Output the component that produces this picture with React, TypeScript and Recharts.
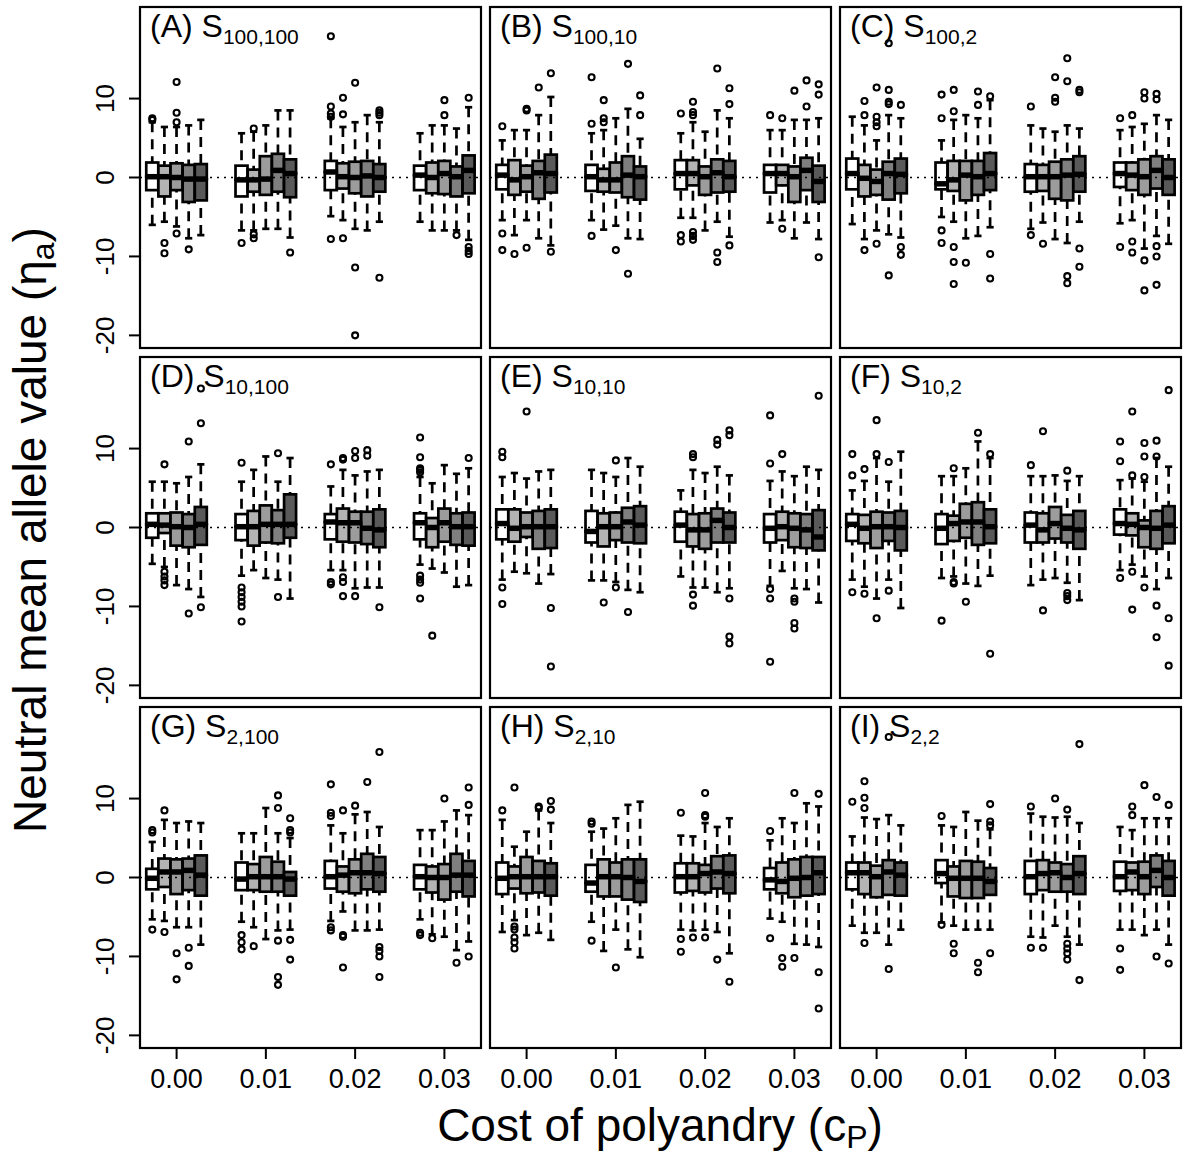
import React from 'react';
import { ComposedChart, Bar, Scatter, XAxis, YAxis, ReferenceLine } from 'recharts';

// cost of polyandry groups and the five treatment shades inside each group
const COSTS = [0, 0.01, 0.02, 0.03];
const SHADES = ['#ffffff', '#b3b3b3', '#9c9c9c', '#7f7f7f', '#595959'];
const Y_TICKS = [-20, -10, 0, 10];
const PANEL_TAGS = ['(A)', '(B)', '(C)', '(D)', '(E)', '(F)', '(G)', '(H)', '(I)'];
const PANEL_SUBS = ['100,100', '100,10', '100,2', '10,100', '10,10', '10,2', '2,100', '2,10', '2,2'];

// box rows: [lower whisker, q1, median, q3, upper whisker], 4 cost groups x 5 boxes
const A_BOXES = [
  [-6.0, -1.6, 0.1, 1.9, 7.0], [-5.6, -2.4, 0.1, 1.5, 6.4], [-6.2, -1.6, 0.0, 1.8, 6.4], [-7.7, -3.1, -0.2, 1.6, 6.6], [-7.3, -2.9, -0.2, 1.7, 7.3],
  [-6.7, -2.4, -0.3, 1.5, 5.6], [-6.7, -1.8, -0.3, 1.0, 5.8], [-6.5, -2.2, -0.2, 2.7, 6.6], [-6.5, -1.8, 0.9, 3.0, 8.5], [-7.6, -2.5, 0.5, 2.3, 8.5],
  [-4.9, -1.6, 0.7, 2.1, 7.5], [-5.4, -1.4, 0.1, 1.8, 6.4], [-6.5, -2.0, 0.0, 2.0, 7.0], [-6.7, -2.4, 0.2, 2.1, 7.9], [-5.6, -1.8, 0.0, 1.7, 7.0],
  [-5.6, -1.6, 0.3, 1.5, 5.6], [-6.7, -2.0, 0.0, 1.9, 6.6], [-6.7, -2.1, 0.5, 2.1, 6.6], [-6.7, -2.4, 0.1, 1.4, 6.2], [-7.9, -2.0, 0.9, 2.8, 8.9],
];
const A_OUTLIERS = [
  [7.5, 7.3], [-8.3, -9.6], [12.1, 8.2, 7.0, -7.1], [-9.1], [],
  [-8.3], [6.2, -7.2, -7.7], [], [], [-9.5],
  [17.9, 9.0, 8.1, 7.7, -7.8], [10.1, 8.0, -7.7], [12.0, -11.4, -20.0], [], [8.5, 8.2, 7.9, -12.7],
  [], [], [9.8, 7.9], [-7.3], [10.1, -8.8, -9.3, -9.7],
];

const B_BOXES = [
  [-5.4, -1.5, 0.3, 1.6, 4.7], [-7.3, -2.2, -0.3, 2.2, 6.0], [-5.4, -1.8, 0.1, 1.5, 6.0], [-7.7, -2.7, 0.6, 2.1, 7.9], [-8.6, -1.9, 0.5, 2.9, 10.2],
  [-5.4, -1.7, 0.1, 1.6, 5.6], [-6.6, -1.8, -0.3, 1.1, 6.0], [-6.1, -1.9, -0.3, 1.9, 7.5], [-7.7, -2.5, 0.3, 2.7, 8.7], [-7.8, -2.8, 0.1, 1.4, 4.9],
  [-5.1, -1.5, 0.5, 2.2, 5.6], [-5.1, -1.0, 0.5, 2.2, 7.0], [-6.7, -2.2, 0.1, 1.4, 5.8], [-5.6, -1.9, 0.6, 2.3, 8.5], [-7.5, -1.8, 0.1, 2.1, 7.5],
  [-5.7, -1.9, 0.5, 1.6, 6.0], [-5.4, -1.0, 0.5, 1.6, 6.0], [-7.7, -3.1, 0.1, 1.4, 7.3], [-5.7, -1.6, 0.9, 2.5, 7.3], [-7.8, -3.1, -0.5, 1.5, 7.5],
];
const B_OUTLIERS = [
  [6.5, -7.1, -9.2], [-9.7], [8.7, 8.5, -8.9], [11.4], [13.2, -9.4],
  [6.8, 12.7, -7.4], [7.5, 7.0, 9.8], [-9.2], [14.4, -12.2], [7.9, 10.4],
  [8.1, -7.3, -8.1], [9.6, 8.3, 7.9, -6.9, -7.4, -7.9], [], [13.8, -9.5, -10.7], [11.3, 9.3, -8.6],
  [7.9], [7.5, -6.5], [11.0], [9.0, 12.3], [10.5, 11.8, -10.1],
];

const C_BOXES = [
  [-5.9, -1.5, 0.5, 2.4, 7.7], [-7.8, -2.4, -0.1, 1.6, 6.6], [-6.7, -2.2, -0.5, 1.0, 4.7], [-7.2, -2.8, 0.5, 2.0, 7.9], [-7.6, -2.0, 0.4, 2.4, 7.5],
  [-5.0, -1.5, -0.8, 1.9, 4.7], [-5.6, -1.7, -0.3, 2.1, 7.3], [-7.7, -2.9, 0.3, 2.1, 7.9], [-7.4, -2.2, 0.1, 2.1, 7.5], [-6.3, -1.6, 0.5, 3.1, 9.8],
  [-6.5, -1.8, 0.1, 1.7, 6.6], [-5.7, -1.7, 0.1, 1.6, 6.2], [-7.8, -2.7, 0.1, 2.0, 5.8], [-8.3, -2.9, 0.3, 2.3, 6.6], [-5.6, -1.8, 0.4, 2.7, 6.2],
  [-5.8, -1.2, 0.5, 1.9, 6.0], [-5.4, -1.6, 0.3, 1.9, 6.4], [-9.0, -2.2, 0.1, 2.3, 6.8], [-7.4, -1.4, 0.9, 2.7, 7.9], [-8.4, -2.2, 0.0, 2.3, 7.3],
];
const C_OUTLIERS = [
  [], [7.9, 9.7, -9.2], [7.7, 7.0, 6.5, 11.4, -8.4], [17.0, 11.1, 9.6, 9.3, -12.4], [9.2, -8.8, -9.8],
  [7.5, 10.5, -6.7, -8.3], [8.4, 11.1, -8.8, -10.7, -13.5], [-10.8], [9.2, 10.9], [10.3, -9.7, -12.8],
  [9.0, -7.3], [-8.4], [10.1, 9.6, 12.7], [12.2, 15.1, -12.5, -13.4], [11.1, 10.8, -9.0, -11.3],
  [7.5, -8.8], [7.9, -8.1, -9.5], [10.8, 10.0, -10.5, -14.3], [10.6, 9.9, -8.7, -10.0, -13.6], [],
];

const D_BOXES = [
  [-4.6, -1.3, 0.4, 1.8, 5.8], [-5.0, -0.7, 0.3, 1.8, 5.8], [-7.3, -2.3, 0.1, 1.9, 5.6], [-7.8, -2.5, 0.0, 1.7, 6.4], [-8.8, -2.2, 0.4, 2.6, 8.0],
  [-6.1, -1.6, 0.1, 1.7, 5.8], [-5.4, -2.3, 0.1, 2.1, 7.3], [-6.4, -1.9, 0.4, 2.8, 9.0], [-6.6, -2.0, 0.4, 2.2, 5.8], [-9.0, -1.3, 0.4, 4.2, 8.8],
  [-5.4, -1.5, 0.7, 1.7, 5.2], [-5.4, -1.8, 0.6, 2.4, 7.3], [-7.7, -1.9, 0.6, 2.0, 6.6], [-7.6, -2.1, -0.1, 2.0, 7.1], [-7.6, -2.5, -0.3, 2.3, 7.3],
  [-4.7, -1.5, 0.6, 1.8, 6.4], [-5.2, -2.5, 0.0, 1.2, 5.6], [-5.7, -1.8, 0.6, 2.4, 7.9], [-7.5, -2.2, 0.1, 1.8, 6.8], [-7.3, -2.3, 0.1, 1.9, 7.5],
];
const D_OUTLIERS = [
  [], [8.0, -5.6, -6.2, -6.7, -7.3], [], [10.9, -10.9], [13.2, 17.6, -10.1],
  [8.2, -7.6, -8.2, -8.8, -9.4, -10.0, -11.9], [], [], [9.4, -8.8], [],
  [8.0, -6.9, -7.2], [8.8, 8.6, -6.3, -6.9, -8.7], [9.7, 8.8, -8.7], [9.8, 9.1], [-10.1],
  [7.5, 7.3, 7.0, 8.9, 11.4, -6.1, -6.6, -7.0, -9.0], [-13.7], [], [], [8.8],
];

const E_BOXES = [
  [-6.6, -1.5, 0.5, 2.3, 6.4], [-5.6, -1.8, -0.1, 2.3, 6.9], [-5.8, -1.2, 0.1, 1.9, 6.2], [-7.1, -2.7, 0.1, 2.1, 7.1], [-5.9, -2.6, 0.1, 2.3, 7.3],
  [-6.7, -1.9, -0.5, 2.1, 7.3], [-6.7, -2.4, 0.1, 1.8, 6.9], [-6.9, -1.6, 0.1, 1.9, 6.4], [-7.9, -1.9, 0.7, 2.5, 8.8], [-8.2, -2.0, 0.3, 2.7, 7.7],
  [-6.2, -1.8, 0.3, 2.0, 4.7], [-7.6, -2.4, -0.3, 1.7, 7.3], [-7.6, -2.7, -0.3, 1.8, 6.9], [-8.2, -1.9, 0.9, 2.4, 7.7], [-7.7, -1.9, 0.0, 1.9, 6.6],
  [-7.4, -1.9, -0.1, 1.7, 5.9], [-5.5, -1.6, 0.1, 2.0, 7.1], [-7.7, -2.5, -0.1, 1.8, 6.5], [-7.8, -2.6, -0.3, 1.7, 7.7], [-9.5, -2.9, -1.2, 2.2, 7.3],
];
const E_OUTLIERS = [
  [9.6, 8.9, -7.6, -9.7], [], [14.7], [], [-10.2, -17.6],
  [], [-9.5], [8.5, -7.6], [-10.7], [],
  [], [9.3, 8.9, -8.5, -9.9], [], [11.1, 10.5], [12.3, 11.7, -9.0, -13.8, -14.7],
  [8.1, 14.2, -7.8, -9.0, -17.0], [9.3], [-9.0, -9.4, -12.1, -12.8], [], [16.7],
];

const F_BOXES = [
  [-6.6, -1.7, 0.4, 1.7, 4.7], [-7.5, -2.0, -0.1, 1.6, 5.9], [-9.0, -2.6, 0.1, 2.0, 8.8], [-6.6, -1.7, 0.1, 1.9, 5.8], [-10.2, -2.9, 0.0, 2.1, 9.6],
  [-6.4, -2.1, -0.1, 1.7, 6.5], [-6.2, -1.7, 0.5, 1.5, 6.5], [-7.1, -1.3, 0.7, 3.0, 7.5], [-7.4, -2.2, 0.7, 3.2, 10.9], [-6.1, -2.0, 0.1, 2.3, 8.8],
  [-7.3, -1.9, 0.3, 1.9, 6.5], [-6.6, -1.9, -0.3, 1.8, 6.5], [-6.4, -1.4, 0.5, 2.6, 6.6], [-7.0, -1.9, -0.1, 1.6, 5.9], [-9.2, -2.7, -0.3, 2.1, 6.5],
  [-5.4, -0.9, 0.5, 2.3, 6.0], [-4.7, -1.0, 0.4, 1.8, 6.2], [-6.2, -2.5, 0.0, 0.9, 5.8], [-7.8, -2.7, -0.1, 2.1, 8.8], [-6.4, -2.0, 0.3, 2.7, 7.7],
];
const F_OUTLIERS = [
  [6.6, 9.3, -8.2], [7.4, -8.4], [9.3, 13.6, -11.5], [8.3, -8.0], [],
  [-11.8], [7.5, -6.9, -7.1], [-9.4], [12.0], [9.3, -16.0],
  [7.9], [12.2, -10.5], [], [7.2, -8.3, -8.7, -9.2], [],
  [8.4, 10.9, -6.4], [6.6, 14.7, -5.6, -10.4], [6.4, 9.0, 10.7, -7.6], [9.0, 11.0, -9.9, -13.9], [17.4, -11.5, -17.5],
];

const G_BOXES = [
  [-5.3, -1.5, -0.1, 1.1, 4.5], [-5.5, -1.2, 0.7, 2.4, 7.3], [-6.3, -2.1, 0.7, 2.3, 6.9], [-6.3, -1.6, 0.9, 2.4, 7.1], [-8.5, -2.3, 0.3, 2.8, 6.9],
  [-5.6, -1.6, -0.2, 1.9, 5.6], [-6.3, -1.6, 0.1, 1.7, 5.6], [-7.8, -1.8, 0.1, 2.6, 8.8], [-6.7, -1.8, 0.1, 2.0, 5.6], [-6.6, -2.3, -0.2, 0.7, 5.0],
  [-5.5, -1.4, 0.1, 2.1, 6.6], [-4.3, -1.8, 0.3, 1.4, 5.6], [-6.7, -2.0, 0.6, 2.3, 8.0], [-6.7, -1.5, 0.6, 3.0, 8.3], [-6.6, -1.8, 0.5, 2.6, 6.4],
  [-5.3, -1.5, 0.1, 1.6, 6.0], [-7.2, -1.9, 0.0, 1.4, 6.0], [-7.5, -2.8, 0.0, 1.7, 7.1], [-9.2, -1.8, 0.3, 3.0, 8.5], [-8.1, -2.4, 0.3, 2.1, 7.9],
];
const G_OUTLIERS = [
  [6.0, 5.7, -6.6], [8.5, -6.9], [-9.6, -12.9], [-8.9, -11.2], [],
  [-7.3, -8.2, -9.1], [-8.7], [], [8.8, 10.4, -8.0, -12.6, -13.6], [7.5, 6.0, 5.7, -7.9, -10.4],
  [8.2, 7.8, 11.8, -6.3, -6.7], [8.5, -7.3, -7.5, -11.4], [9.1], [12.1], [15.9, -8.8, -9.3, -10.0, -12.6],
  [-7.0, -7.3], [-7.7], [10.0], [-10.8], [9.2, 11.4, -10.0],
];

const H_BOXES = [
  [-6.9, -2.1, -0.1, 1.9, 7.3], [-5.4, -1.4, 0.1, 1.4, 3.9], [-7.3, -2.0, 0.1, 2.6, 5.8], [-7.0, -1.9, 0.1, 2.1, 8.5], [-7.9, -2.3, 0.1, 1.8, 6.9],
  [-5.6, -1.8, -0.7, 1.6, 5.8], [-9.3, -2.4, 0.1, 2.3, 6.2], [-6.6, -2.4, 0.1, 1.9, 7.5], [-9.1, -2.8, 0.0, 2.3, 9.2], [-10.1, -3.1, -0.5, 2.3, 9.6],
  [-6.6, -1.9, 0.1, 1.8, 5.3], [-6.7, -1.7, 0.1, 1.8, 5.2], [-6.6, -1.9, 0.5, 1.6, 6.9], [-6.9, -1.4, 0.7, 2.7, 6.4], [-9.6, -2.0, 0.5, 2.8, 7.5],
  [-5.2, -1.5, -0.3, 1.2, 4.7], [-5.6, -2.0, -0.5, 1.9, 7.5], [-8.4, -2.5, -0.1, 2.3, 6.9], [-8.5, -2.3, 0.0, 2.6, 9.4], [-8.8, -2.1, 0.6, 2.6, 9.0],
];
const H_OUTLIERS = [
  [8.5], [11.4, -6.2, -6.6, -7.6, -8.2, -9.0], [], [9.0, 8.8], [9.7, 8.6],
  [7.1, 6.8, -8.0], [], [-11.4], [], [],
  [8.2, -7.8, -9.4], [-7.6], [7.9, 7.7, 10.7, -7.6], [-10.4], [-13.2],
  [5.9, -7.7], [-10.2, -11.3], [10.7, -10.2], [], [10.6, -12.0, -16.6],
];

const I_BOXES = [
  [-6.1, -1.5, 0.6, 1.9, 5.2], [-7.0, -2.1, 0.6, 1.9, 7.6], [-7.0, -2.5, 0.1, 1.5, 7.4], [-8.5, -2.2, 0.7, 2.2, 7.9], [-6.6, -2.3, 0.3, 1.9, 6.6],
  [-5.7, -0.7, 0.5, 2.2, 6.6], [-6.1, -2.4, -0.1, 1.4, 6.4], [-6.6, -2.6, -0.1, 2.1, 8.3], [-6.6, -2.6, -0.1, 2.0, 7.2], [-6.6, -2.2, -0.5, 1.2, 6.1],
  [-7.5, -2.1, 0.1, 2.1, 8.1], [-7.6, -1.6, 0.5, 2.2, 7.7], [-6.1, -1.8, 0.6, 1.9, 7.6], [-7.5, -1.8, 0.0, 1.7, 7.7], [-8.5, -2.1, 0.5, 2.7, 6.9],
  [-6.6, -1.7, 0.1, 2.0, 6.4], [-6.6, -1.6, 0.7, 1.9, 6.0], [-7.3, -2.1, 0.1, 2.0, 7.5], [-6.6, -1.2, 0.9, 2.8, 7.5], [-8.5, -2.3, 0.0, 2.1, 7.5],
];
const I_OUTLIERS = [
  [9.6], [8.8, 10.1, 12.2, -8.3], [], [17.8, -11.6], [],
  [7.8, -6.0], [-8.4, -9.6], [], [-10.8, -12.0], [7.1, 6.6, 9.3, -9.6],
  [9.0, -8.9], [-8.9], [10.0], [8.6, -8.4, -9.0, -9.6, -10.4], [16.9, -13.0],
  [-9.0, -11.7], [9.0, 7.9], [11.7], [10.2, -10.0], [9.2, -10.9],
];

const PANEL_BOXES = [A_BOXES, B_BOXES, C_BOXES, D_BOXES, E_BOXES, F_BOXES, G_BOXES, H_BOXES, I_BOXES];
const PANEL_OUTLIERS = [A_OUTLIERS, B_OUTLIERS, C_OUTLIERS, D_OUTLIERS, E_OUTLIERS, F_OUTLIERS, G_OUTLIERS, H_OUTLIERS, I_OUTLIERS];

// layout
const FONT = '"Liberation Sans", Arial, Helvetica, sans-serif';
const PW = 341;
const PH = 341;
const PANEL_X = [140, 490, 840];
const PANEL_Y = [7, 357, 707];
const Y_AXIS_W = 60;
const X_AXIS_H = 60;
const PAD_TOP = 20;
const PAD_RIGHT = 10;
const X_DOMAIN = [-0.0041, 0.0341];
const Y_DOMAIN = [-21.6, 21.6];
const STEP = 0.00136; // spacing between neighbouring boxes within a cost group
const BOX_W = 12;
const LW = 2.7;

const buildPanel = (boxes: number[][], outs: number[][]) => {
  const rows = boxes.map((b, i) => ({
    x: COSTS[Math.floor(i / 5)] + ((i % 5) - 2) * STEP,
    shade: i % 5,
    lo: b[0],
    q1: b[1],
    med: b[2],
    q3: b[3],
    hi: b[4],
  }));
  const points = outs.flatMap((vals, i) => vals.map((y) => ({ x: rows[i].x, y })));
  return { rows, points };
};

const span = (y: number, height: number) => ({ top: Math.min(y, y + height), h: Math.abs(height) });

const WhiskerShape = (props: any) => {
  const { x, y, width, height } = props;
  const { top, h } = span(y, height);
  const cx = x + width / 2;
  const mid = top + h / 2;
  const cap = width * 0.3;
  return (
    <g stroke="#000" strokeWidth={LW} fill="none">
      <line x1={cx} y1={top} x2={cx} y2={mid} strokeDasharray="10 7" />
      <line x1={cx} y1={top + h} x2={cx} y2={mid} strokeDasharray="10 7" />
      <line x1={cx - cap} y1={top} x2={cx + cap} y2={top} />
      <line x1={cx - cap} y1={top + h} x2={cx + cap} y2={top + h} />
    </g>
  );
};

const UpperBoxShape = (props: any) => {
  const { x, y, width, height, payload, index } = props;
  const { top, h } = span(y, height);
  const fill = SHADES[payload?.shade ?? index % 5];
  return <rect x={x} y={top} width={width} height={h} fill={fill} stroke="#000" strokeWidth={LW} />;
};

// lower half of the box; its top edge is the median, drawn heavy
const LowerBoxShape = (props: any) => {
  const { x, y, width, height, payload, index } = props;
  const { top, h } = span(y, height);
  const fill = SHADES[payload?.shade ?? index % 5];
  return (
    <g>
      <rect x={x} y={top} width={width} height={h} fill={fill} stroke="#000" strokeWidth={LW} />
      <line x1={x} y1={top} x2={x + width} y2={top} stroke="#000" strokeWidth={5.5} />
    </g>
  );
};

const Ring = (props: any) => (
  <circle cx={props.cx} cy={props.cy} r={3} fill="none" stroke="#000" strokeWidth={2.1} />
);

const YTick = (props: any) => {
  const { x, y, payload } = props;
  return (
    <text x={x} y={y} transform={`rotate(-90 ${x} ${y})`} textAnchor="middle" fontSize={26} fontFamily={FONT} fill="#000">
      {payload.value}
    </text>
  );
};

const XTick = (props: any) => {
  const { x, y, payload } = props;
  return (
    <text x={x} y={y + 19} textAnchor="middle" fontSize={27} fontFamily={FONT} fill="#000">
      {Number(payload.value).toFixed(2)}
    </text>
  );
};

const Panel = ({ idx }: { idx: number }) => {
  const col = idx % 3;
  const row = Math.floor(idx / 3);
  const showY = col === 0;
  const showX = row === 2;
  const { rows, points } = buildPanel(PANEL_BOXES[idx], PANEL_OUTLIERS[idx]);
  return (
    <div style={{ position: 'absolute', left: PANEL_X[col] - Y_AXIS_W, top: PANEL_Y[row] - PAD_TOP }}>
      <ComposedChart
        width={PW + Y_AXIS_W + PAD_RIGHT}
        height={PH + PAD_TOP + X_AXIS_H}
        data={rows}
        margin={{ top: PAD_TOP, right: PAD_RIGHT, bottom: showX ? 0 : X_AXIS_H, left: showY ? 0 : Y_AXIS_W }}
      >
        <XAxis
          xAxisId={0}
          dataKey="x"
          type="number"
          domain={X_DOMAIN}
          allowDataOverflow
          ticks={COSTS}
          interval={0}
          hide={!showX}
          height={X_AXIS_H}
          axisLine={false}
          tickLine={{ stroke: '#000', strokeWidth: 2 }}
          tickSize={11}
          tickMargin={10}
          tick={<XTick />}
        />
        <XAxis xAxisId={1} dataKey="x" type="number" domain={X_DOMAIN} allowDataOverflow hide height={0} />
        <XAxis xAxisId={2} dataKey="x" type="number" domain={X_DOMAIN} allowDataOverflow hide height={0} />
        <XAxis xAxisId={3} dataKey="x" type="number" domain={X_DOMAIN} allowDataOverflow hide height={0} />
        <YAxis
          dataKey="y"
          type="number"
          domain={Y_DOMAIN}
          allowDataOverflow
          ticks={Y_TICKS}
          interval={0}
          hide={!showY}
          width={Y_AXIS_W}
          axisLine={false}
          tickLine={{ stroke: '#000', strokeWidth: 2 }}
          tickSize={11}
          tickMargin={15}
          tick={<YTick />}
        />
        <ReferenceLine xAxisId={0} y={0} stroke="#000" strokeWidth={1.3} strokeDasharray="2 5" />
        {/* whiskers, then upper box half, then lower half with the median on top */}
        <Bar xAxisId={1} dataKey={(d: any) => [d.lo, d.hi]} barSize={BOX_W} shape={WhiskerShape} isAnimationActive={false} />
        <Bar xAxisId={2} dataKey={(d: any) => [d.med, d.q3]} barSize={BOX_W} shape={UpperBoxShape} isAnimationActive={false} />
        <Bar xAxisId={3} dataKey={(d: any) => [d.q1, d.med]} barSize={BOX_W} shape={LowerBoxShape} isAnimationActive={false} />
        <Scatter xAxisId={0} data={points} shape={Ring} isAnimationActive={false} />
      </ComposedChart>
    </div>
  );
};

export default function App() {
  return (
    <div style={{ position: 'absolute', left: 0, top: 0, width: 1188, height: 1157, background: '#fff', fontFamily: FONT }}>
      {PANEL_TAGS.map((_, i) => (
        <Panel key={i} idx={i} />
      ))}
      <svg width={1188} height={1157} style={{ position: 'absolute', left: 0, top: 0, pointerEvents: 'none' }}>
        {PANEL_TAGS.map((tag, i) => {
          const px = PANEL_X[i % 3];
          const py = PANEL_Y[Math.floor(i / 3)];
          return (
            <g key={tag}>
              <rect x={px} y={py} width={PW} height={PH} fill="none" stroke="#000" strokeWidth={2.2} />
              <text x={px + 10} y={py + 30} fontSize={32} fontFamily={FONT} fill="#000">
                {tag} S
                <tspan fontSize={21} dy={7}>{PANEL_SUBS[i]}</tspan>
              </text>
            </g>
          );
        })}
        <text transform="translate(46 530) rotate(-90)" textAnchor="middle" fontSize={46} fontFamily={FONT} fill="#000">
          Neutral mean allele value (η
          <tspan fontSize={32} dy={8}>a</tspan>
          <tspan dy={-8}>)</tspan>
        </text>
        <text x={660} y={1141} textAnchor="middle" fontSize={46} fontFamily={FONT} fill="#000">
          Cost of polyandry (c
          <tspan fontSize={32} dy={7}>P</tspan>
          <tspan dy={-7}>)</tspan>
        </text>
      </svg>
    </div>
  );
}
